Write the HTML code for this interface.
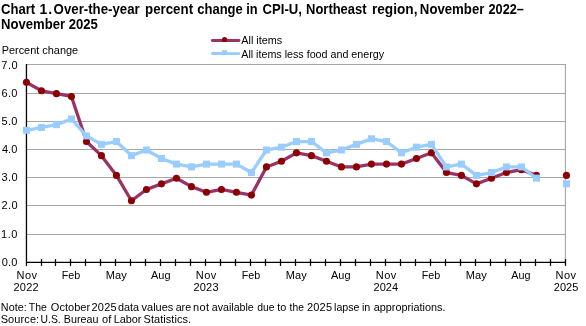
<!DOCTYPE html>
<html><head><meta charset="utf-8"><style>
html,body{margin:0;padding:0;background:#fff;}
svg{display:block;will-change:transform;}
text{font-family:"Liberation Sans",sans-serif;fill:#000;}
.b{font-size:14px;font-weight:bold;}
.t{font-size:11px;}
.x{font-size:11px;letter-spacing:1px;}
.n{font-size:11px;}
</style></head><body>
<svg width="586" height="326" viewBox="0 0 586 326">
<line x1="26.45" y1="234.50" x2="565.9" y2="234.50" stroke="#a6a6a6" stroke-width="1.1"/>
<line x1="26.45" y1="205.50" x2="565.9" y2="205.50" stroke="#a6a6a6" stroke-width="1.1"/>
<line x1="26.45" y1="177.50" x2="565.9" y2="177.50" stroke="#a6a6a6" stroke-width="1.1"/>
<line x1="26.45" y1="149.50" x2="565.9" y2="149.50" stroke="#a6a6a6" stroke-width="1.1"/>
<line x1="26.45" y1="121.50" x2="565.9" y2="121.50" stroke="#a6a6a6" stroke-width="1.1"/>
<line x1="26.45" y1="93.50" x2="565.9" y2="93.50" stroke="#a6a6a6" stroke-width="1.1"/>
<line x1="26.45" y1="64.50" x2="565.9" y2="64.50" stroke="#a6a6a6" stroke-width="1.1"/>
<line x1="565.4" y1="64" x2="565.4" y2="262.35" stroke="#a6a6a6" stroke-width="1.1"/>
<line x1="26.45" y1="64" x2="26.45" y2="265.9" stroke="#000" stroke-width="1.3"/>
<line x1="26.45" y1="262.35" x2="565.9" y2="262.35" stroke="#000" stroke-width="1.3"/>
<line x1="41.50" y1="259.1" x2="41.50" y2="265.9" stroke="#000" stroke-width="1.3"/>
<line x1="55.50" y1="259.1" x2="55.50" y2="265.9" stroke="#000" stroke-width="1.3"/>
<line x1="70.50" y1="259.1" x2="70.50" y2="265.9" stroke="#000" stroke-width="1.3"/>
<line x1="85.50" y1="259.1" x2="85.50" y2="265.9" stroke="#000" stroke-width="1.3"/>
<line x1="100.50" y1="259.1" x2="100.50" y2="265.9" stroke="#000" stroke-width="1.3"/>
<line x1="115.50" y1="259.1" x2="115.50" y2="265.9" stroke="#000" stroke-width="1.3"/>
<line x1="130.50" y1="259.1" x2="130.50" y2="265.9" stroke="#000" stroke-width="1.3"/>
<line x1="145.50" y1="259.1" x2="145.50" y2="265.9" stroke="#000" stroke-width="1.3"/>
<line x1="160.50" y1="259.1" x2="160.50" y2="265.9" stroke="#000" stroke-width="1.3"/>
<line x1="175.50" y1="259.1" x2="175.50" y2="265.9" stroke="#000" stroke-width="1.3"/>
<line x1="190.50" y1="259.1" x2="190.50" y2="265.9" stroke="#000" stroke-width="1.3"/>
<line x1="205.50" y1="259.1" x2="205.50" y2="265.9" stroke="#000" stroke-width="1.3"/>
<line x1="220.50" y1="259.1" x2="220.50" y2="265.9" stroke="#000" stroke-width="1.3"/>
<line x1="235.50" y1="259.1" x2="235.50" y2="265.9" stroke="#000" stroke-width="1.3"/>
<line x1="250.50" y1="259.1" x2="250.50" y2="265.9" stroke="#000" stroke-width="1.3"/>
<line x1="265.50" y1="259.1" x2="265.50" y2="265.9" stroke="#000" stroke-width="1.3"/>
<line x1="280.50" y1="259.1" x2="280.50" y2="265.9" stroke="#000" stroke-width="1.3"/>
<line x1="295.50" y1="259.1" x2="295.50" y2="265.9" stroke="#000" stroke-width="1.3"/>
<line x1="310.50" y1="259.1" x2="310.50" y2="265.9" stroke="#000" stroke-width="1.3"/>
<line x1="325.50" y1="259.1" x2="325.50" y2="265.9" stroke="#000" stroke-width="1.3"/>
<line x1="340.50" y1="259.1" x2="340.50" y2="265.9" stroke="#000" stroke-width="1.3"/>
<line x1="355.50" y1="259.1" x2="355.50" y2="265.9" stroke="#000" stroke-width="1.3"/>
<line x1="370.50" y1="259.1" x2="370.50" y2="265.9" stroke="#000" stroke-width="1.3"/>
<line x1="385.50" y1="259.1" x2="385.50" y2="265.9" stroke="#000" stroke-width="1.3"/>
<line x1="400.50" y1="259.1" x2="400.50" y2="265.9" stroke="#000" stroke-width="1.3"/>
<line x1="415.50" y1="259.1" x2="415.50" y2="265.9" stroke="#000" stroke-width="1.3"/>
<line x1="430.50" y1="259.1" x2="430.50" y2="265.9" stroke="#000" stroke-width="1.3"/>
<line x1="445.50" y1="259.1" x2="445.50" y2="265.9" stroke="#000" stroke-width="1.3"/>
<line x1="460.50" y1="259.1" x2="460.50" y2="265.9" stroke="#000" stroke-width="1.3"/>
<line x1="475.50" y1="259.1" x2="475.50" y2="265.9" stroke="#000" stroke-width="1.3"/>
<line x1="490.50" y1="259.1" x2="490.50" y2="265.9" stroke="#000" stroke-width="1.3"/>
<line x1="505.50" y1="259.1" x2="505.50" y2="265.9" stroke="#000" stroke-width="1.3"/>
<line x1="520.50" y1="259.1" x2="520.50" y2="265.9" stroke="#000" stroke-width="1.3"/>
<line x1="535.50" y1="259.1" x2="535.50" y2="265.9" stroke="#000" stroke-width="1.3"/>
<line x1="550.50" y1="259.1" x2="550.50" y2="265.9" stroke="#000" stroke-width="1.3"/>
<line x1="565.50" y1="259.1" x2="565.50" y2="265.9" stroke="#000" stroke-width="1.3"/>
<path d="M26.45,82.35 L41.45,90.81 L56.45,93.63 L71.45,96.45 L86.45,141.55 L101.45,155.65 L116.45,175.38 L131.45,200.75 L146.45,189.48 L161.45,183.84 L176.45,178.20 L191.45,186.66 L206.45,192.29 L221.45,189.48 L236.45,192.29 L251.45,195.11 L266.45,166.92 L281.45,161.29 L296.45,152.83 L311.45,155.65 L326.45,161.29 L341.45,166.92 L356.45,166.92 L371.45,164.10 L386.45,164.10 L401.45,164.10 L416.45,158.47 L431.45,152.83 L446.45,172.56 L461.45,175.38 L476.45,183.84 L491.45,178.20 L506.45,172.56 L521.45,169.74 L536.45,175.38" fill="none" stroke="#993366" stroke-width="3.3" stroke-linejoin="round"/>
<circle cx="26.45" cy="82.35" r="3.55" fill="#8b0000"/>
<circle cx="41.45" cy="90.81" r="3.55" fill="#8b0000"/>
<circle cx="56.45" cy="93.63" r="3.55" fill="#8b0000"/>
<circle cx="71.45" cy="96.45" r="3.55" fill="#8b0000"/>
<circle cx="86.45" cy="141.55" r="3.55" fill="#8b0000"/>
<circle cx="101.45" cy="155.65" r="3.55" fill="#8b0000"/>
<circle cx="116.45" cy="175.38" r="3.55" fill="#8b0000"/>
<circle cx="131.45" cy="200.75" r="3.55" fill="#8b0000"/>
<circle cx="146.45" cy="189.48" r="3.55" fill="#8b0000"/>
<circle cx="161.45" cy="183.84" r="3.55" fill="#8b0000"/>
<circle cx="176.45" cy="178.20" r="3.55" fill="#8b0000"/>
<circle cx="191.45" cy="186.66" r="3.55" fill="#8b0000"/>
<circle cx="206.45" cy="192.29" r="3.55" fill="#8b0000"/>
<circle cx="221.45" cy="189.48" r="3.55" fill="#8b0000"/>
<circle cx="236.45" cy="192.29" r="3.55" fill="#8b0000"/>
<circle cx="251.45" cy="195.11" r="3.55" fill="#8b0000"/>
<circle cx="266.45" cy="166.92" r="3.55" fill="#8b0000"/>
<circle cx="281.45" cy="161.29" r="3.55" fill="#8b0000"/>
<circle cx="296.45" cy="152.83" r="3.55" fill="#8b0000"/>
<circle cx="311.45" cy="155.65" r="3.55" fill="#8b0000"/>
<circle cx="326.45" cy="161.29" r="3.55" fill="#8b0000"/>
<circle cx="341.45" cy="166.92" r="3.55" fill="#8b0000"/>
<circle cx="356.45" cy="166.92" r="3.55" fill="#8b0000"/>
<circle cx="371.45" cy="164.10" r="3.55" fill="#8b0000"/>
<circle cx="386.45" cy="164.10" r="3.55" fill="#8b0000"/>
<circle cx="401.45" cy="164.10" r="3.55" fill="#8b0000"/>
<circle cx="416.45" cy="158.47" r="3.55" fill="#8b0000"/>
<circle cx="431.45" cy="152.83" r="3.55" fill="#8b0000"/>
<circle cx="446.45" cy="172.56" r="3.55" fill="#8b0000"/>
<circle cx="461.45" cy="175.38" r="3.55" fill="#8b0000"/>
<circle cx="476.45" cy="183.84" r="3.55" fill="#8b0000"/>
<circle cx="491.45" cy="178.20" r="3.55" fill="#8b0000"/>
<circle cx="506.45" cy="172.56" r="3.55" fill="#8b0000"/>
<circle cx="521.45" cy="169.74" r="3.55" fill="#8b0000"/>
<circle cx="536.45" cy="175.38" r="3.55" fill="#8b0000"/>
<circle cx="566.45" cy="175.38" r="3.55" fill="#8b0000"/>
<path d="M26.45,130.28 L41.45,127.46 L56.45,124.64 L71.45,119.00 L86.45,135.91 L101.45,144.37 L116.45,141.55 L131.45,155.65 L146.45,150.01 L161.45,158.47 L176.45,164.10 L191.45,166.92 L206.45,164.10 L221.45,164.10 L236.45,164.10 L251.45,172.56 L266.45,150.01 L281.45,147.19 L296.45,141.55 L311.45,141.55 L326.45,152.83 L341.45,150.01 L356.45,144.37 L371.45,138.73 L386.45,141.55 L401.45,152.83 L416.45,147.19 L431.45,144.37 L446.45,166.92 L461.45,164.10 L476.45,175.38 L491.45,172.56 L506.45,166.92 L521.45,166.92 L536.45,178.20" fill="none" stroke="#99ccff" stroke-width="3.3" stroke-linejoin="round"/>
<rect x="22.95" y="126.78" width="7" height="7" fill="#99ccff"/>
<rect x="37.95" y="123.96" width="7" height="7" fill="#99ccff"/>
<rect x="52.95" y="121.14" width="7" height="7" fill="#99ccff"/>
<rect x="67.95" y="115.50" width="7" height="7" fill="#99ccff"/>
<rect x="82.95" y="132.41" width="7" height="7" fill="#99ccff"/>
<rect x="97.95" y="140.87" width="7" height="7" fill="#99ccff"/>
<rect x="112.95" y="138.05" width="7" height="7" fill="#99ccff"/>
<rect x="127.95" y="152.15" width="7" height="7" fill="#99ccff"/>
<rect x="142.95" y="146.51" width="7" height="7" fill="#99ccff"/>
<rect x="157.95" y="154.97" width="7" height="7" fill="#99ccff"/>
<rect x="172.95" y="160.60" width="7" height="7" fill="#99ccff"/>
<rect x="187.95" y="163.42" width="7" height="7" fill="#99ccff"/>
<rect x="202.95" y="160.60" width="7" height="7" fill="#99ccff"/>
<rect x="217.95" y="160.60" width="7" height="7" fill="#99ccff"/>
<rect x="232.95" y="160.60" width="7" height="7" fill="#99ccff"/>
<rect x="247.95" y="169.06" width="7" height="7" fill="#99ccff"/>
<rect x="262.95" y="146.51" width="7" height="7" fill="#99ccff"/>
<rect x="277.95" y="143.69" width="7" height="7" fill="#99ccff"/>
<rect x="292.95" y="138.05" width="7" height="7" fill="#99ccff"/>
<rect x="307.95" y="138.05" width="7" height="7" fill="#99ccff"/>
<rect x="322.95" y="149.33" width="7" height="7" fill="#99ccff"/>
<rect x="337.95" y="146.51" width="7" height="7" fill="#99ccff"/>
<rect x="352.95" y="140.87" width="7" height="7" fill="#99ccff"/>
<rect x="367.95" y="135.23" width="7" height="7" fill="#99ccff"/>
<rect x="382.95" y="138.05" width="7" height="7" fill="#99ccff"/>
<rect x="397.95" y="149.33" width="7" height="7" fill="#99ccff"/>
<rect x="412.95" y="143.69" width="7" height="7" fill="#99ccff"/>
<rect x="427.95" y="140.87" width="7" height="7" fill="#99ccff"/>
<rect x="442.95" y="163.42" width="7" height="7" fill="#99ccff"/>
<rect x="457.95" y="160.60" width="7" height="7" fill="#99ccff"/>
<rect x="472.95" y="171.88" width="7" height="7" fill="#99ccff"/>
<rect x="487.95" y="169.06" width="7" height="7" fill="#99ccff"/>
<rect x="502.95" y="163.42" width="7" height="7" fill="#99ccff"/>
<rect x="517.95" y="163.42" width="7" height="7" fill="#99ccff"/>
<rect x="532.95" y="174.70" width="7" height="7" fill="#99ccff"/>
<rect x="562.95" y="180.34" width="7" height="7" fill="#99ccff"/>
<line x1="212.3" y1="40.5" x2="239" y2="40.5" stroke="#993366" stroke-width="2.8" stroke-linecap="round"/>
<circle cx="224.6" cy="39.5" r="2.6" fill="#8b0000"/>
<line x1="212.4" y1="53.5" x2="239" y2="53.6" stroke="#99ccff" stroke-width="2.8" stroke-linecap="round"/>
<rect x="222" y="50.2" width="5" height="4" fill="#99ccff"/>
<text x="1.03" y="14" class="b" textLength="34.12" lengthAdjust="spacingAndGlyphs">Chart</text>
<text x="39.47" y="14" class="b" textLength="12.68" lengthAdjust="spacing">1.</text>
<text x="53.62" y="14" class="b" textLength="86.11" lengthAdjust="spacingAndGlyphs">Over-the-year</text>
<text x="145.05" y="14" class="b" textLength="48.02" lengthAdjust="spacingAndGlyphs">percent</text>
<text x="197.27" y="14" class="b" textLength="45.54" lengthAdjust="spacingAndGlyphs">change</text>
<text x="246.16" y="14" class="b" textLength="11.41" lengthAdjust="spacingAndGlyphs">in</text>
<text x="262.62" y="14" class="b" textLength="39.39" lengthAdjust="spacingAndGlyphs">CPI-U,</text>
<text x="306.08" y="14" class="b" textLength="60.48" lengthAdjust="spacingAndGlyphs">Northeast</text>
<text x="371.94" y="14" class="b" textLength="45.54" lengthAdjust="spacingAndGlyphs">region,</text>
<text x="419.86" y="14" class="b" textLength="64.51" lengthAdjust="spacingAndGlyphs">November</text>
<text x="488.50" y="14" class="b" textLength="35.42" lengthAdjust="spacingAndGlyphs">2022–</text>
<text x="0.97" y="29" class="b" textLength="96.86" lengthAdjust="spacingAndGlyphs">November 2025</text>
<text x="1.66" y="54.4" class="t" textLength="76.49" lengthAdjust="spacingAndGlyphs">Percent change</text>
<text x="241.27" y="43.7" class="t" textLength="40.91" lengthAdjust="spacingAndGlyphs">All items</text>
<text x="241.26" y="57.8" class="t" textLength="142.82" lengthAdjust="spacingAndGlyphs">All items less food and energy</text>
<text x="1.37" y="69.1" class="t" textLength="16.18" lengthAdjust="spacing">7.0</text>
<text x="1.48" y="97" class="t" textLength="15.95" lengthAdjust="spacing">6.0</text>
<text x="1.45" y="124.7" class="t" textLength="16.03" lengthAdjust="spacing">5.0</text>
<text x="2.00" y="153" class="t" textLength="15.26" lengthAdjust="spacingAndGlyphs">4.0</text>
<text x="1.38" y="181" class="t" textLength="16.17" lengthAdjust="spacing">3.0</text>
<text x="1.55" y="209" class="t" textLength="16.04" lengthAdjust="spacing">2.0</text>
<text x="1.09" y="238" class="t" textLength="16.30" lengthAdjust="spacing">1.0</text>
<text x="1.71" y="265.8" class="t" textLength="15.72" lengthAdjust="spacing">0.0</text>
<text x="16.55" y="278.6" class="t" textLength="20.39" lengthAdjust="spacing">Nov</text>
<text x="61.66" y="278.6" class="t" textLength="18.54" lengthAdjust="spacingAndGlyphs">Feb</text>
<text x="105.85" y="278.6" class="t" textLength="20.87" lengthAdjust="spacing">May</text>
<text x="151.06" y="278.6" class="t" textLength="19.45" lengthAdjust="spacingAndGlyphs">Aug</text>
<text x="195.85" y="278.6" class="t" textLength="20.39" lengthAdjust="spacing">Nov</text>
<text x="241.66" y="278.6" class="t" textLength="18.54" lengthAdjust="spacingAndGlyphs">Feb</text>
<text x="285.85" y="278.6" class="t" textLength="20.87" lengthAdjust="spacing">May</text>
<text x="331.06" y="278.6" class="t" textLength="19.45" lengthAdjust="spacingAndGlyphs">Aug</text>
<text x="375.85" y="278.6" class="t" textLength="20.39" lengthAdjust="spacing">Nov</text>
<text x="421.66" y="278.6" class="t" textLength="18.54" lengthAdjust="spacingAndGlyphs">Feb</text>
<text x="465.85" y="278.6" class="t" textLength="20.87" lengthAdjust="spacing">May</text>
<text x="511.36" y="278.6" class="t" textLength="19.21" lengthAdjust="spacingAndGlyphs">Aug</text>
<text x="555.55" y="278.6" class="t" textLength="20.39" lengthAdjust="spacing">Nov</text>
<text x="13.45" y="290.5" class="t" textLength="25.18" lengthAdjust="spacing">2022</text>
<text x="193.45" y="290.5" class="t" textLength="25.07" lengthAdjust="spacing">2023</text>
<text x="373.45" y="290.5" class="t" textLength="24.76" lengthAdjust="spacing">2024</text>
<text x="553.85" y="290.5" class="t" textLength="24.40" lengthAdjust="spacingAndGlyphs">2025</text>
<text x="0.87" y="310.8" class="t" textLength="25.78" lengthAdjust="spacingAndGlyphs">Note:</text>
<text x="28.81" y="310.8" class="t" textLength="17.97" lengthAdjust="spacingAndGlyphs">The</text>
<text x="50.83" y="310.8" class="t" textLength="39.34" lengthAdjust="spacing">October</text>
<text x="91.55" y="310.8" class="t" textLength="25.03" lengthAdjust="spacing">2025</text>
<text x="117.92" y="310.8" class="t" textLength="21.08" lengthAdjust="spacingAndGlyphs">data</text>
<text x="141.55" y="310.8" class="t" textLength="31.74" lengthAdjust="spacingAndGlyphs">values</text>
<text x="175.64" y="310.8" class="t" textLength="15.51" lengthAdjust="spacingAndGlyphs">are</text>
<text x="193.02" y="310.8" class="t" textLength="16.13" lengthAdjust="spacing">not</text>
<text x="211.77" y="310.8" class="t" textLength="41.96" lengthAdjust="spacingAndGlyphs">available</text>
<text x="257.21" y="310.8" class="t" textLength="17.35" lengthAdjust="spacingAndGlyphs">due</text>
<text x="277.23" y="310.8" class="t" textLength="9.11" lengthAdjust="spacingAndGlyphs">to</text>
<text x="289.54" y="310.8" class="t" textLength="14.36" lengthAdjust="spacingAndGlyphs">the</text>
<text x="306.95" y="310.8" class="t" textLength="25.08" lengthAdjust="spacing">2025</text>
<text x="334.07" y="310.8" class="t" textLength="25.49" lengthAdjust="spacingAndGlyphs">lapse</text>
<text x="361.91" y="310.8" class="t" textLength="8.36" lengthAdjust="spacingAndGlyphs">in</text>
<text x="373.72" y="310.8" class="t" textLength="71.71" lengthAdjust="spacingAndGlyphs">appropriations.</text>
<text x="0.67" y="322.7" class="t" textLength="38.50" lengthAdjust="spacing">Source:</text>
<text x="40.56" y="322.7" class="t" textLength="20.10" lengthAdjust="spacingAndGlyphs">U.S.</text>
<text x="63.87" y="322.7" class="t" textLength="34.51" lengthAdjust="spacingAndGlyphs">Bureau</text>
<text x="101.98" y="322.7" class="t" textLength="9.39" lengthAdjust="spacing">of</text>
<text x="113.64" y="322.7" class="t" textLength="27.84" lengthAdjust="spacingAndGlyphs">Labor</text>
<text x="143.57" y="322.7" class="t" textLength="47.49" lengthAdjust="spacing">Statistics.</text>
</svg>
</body></html>
